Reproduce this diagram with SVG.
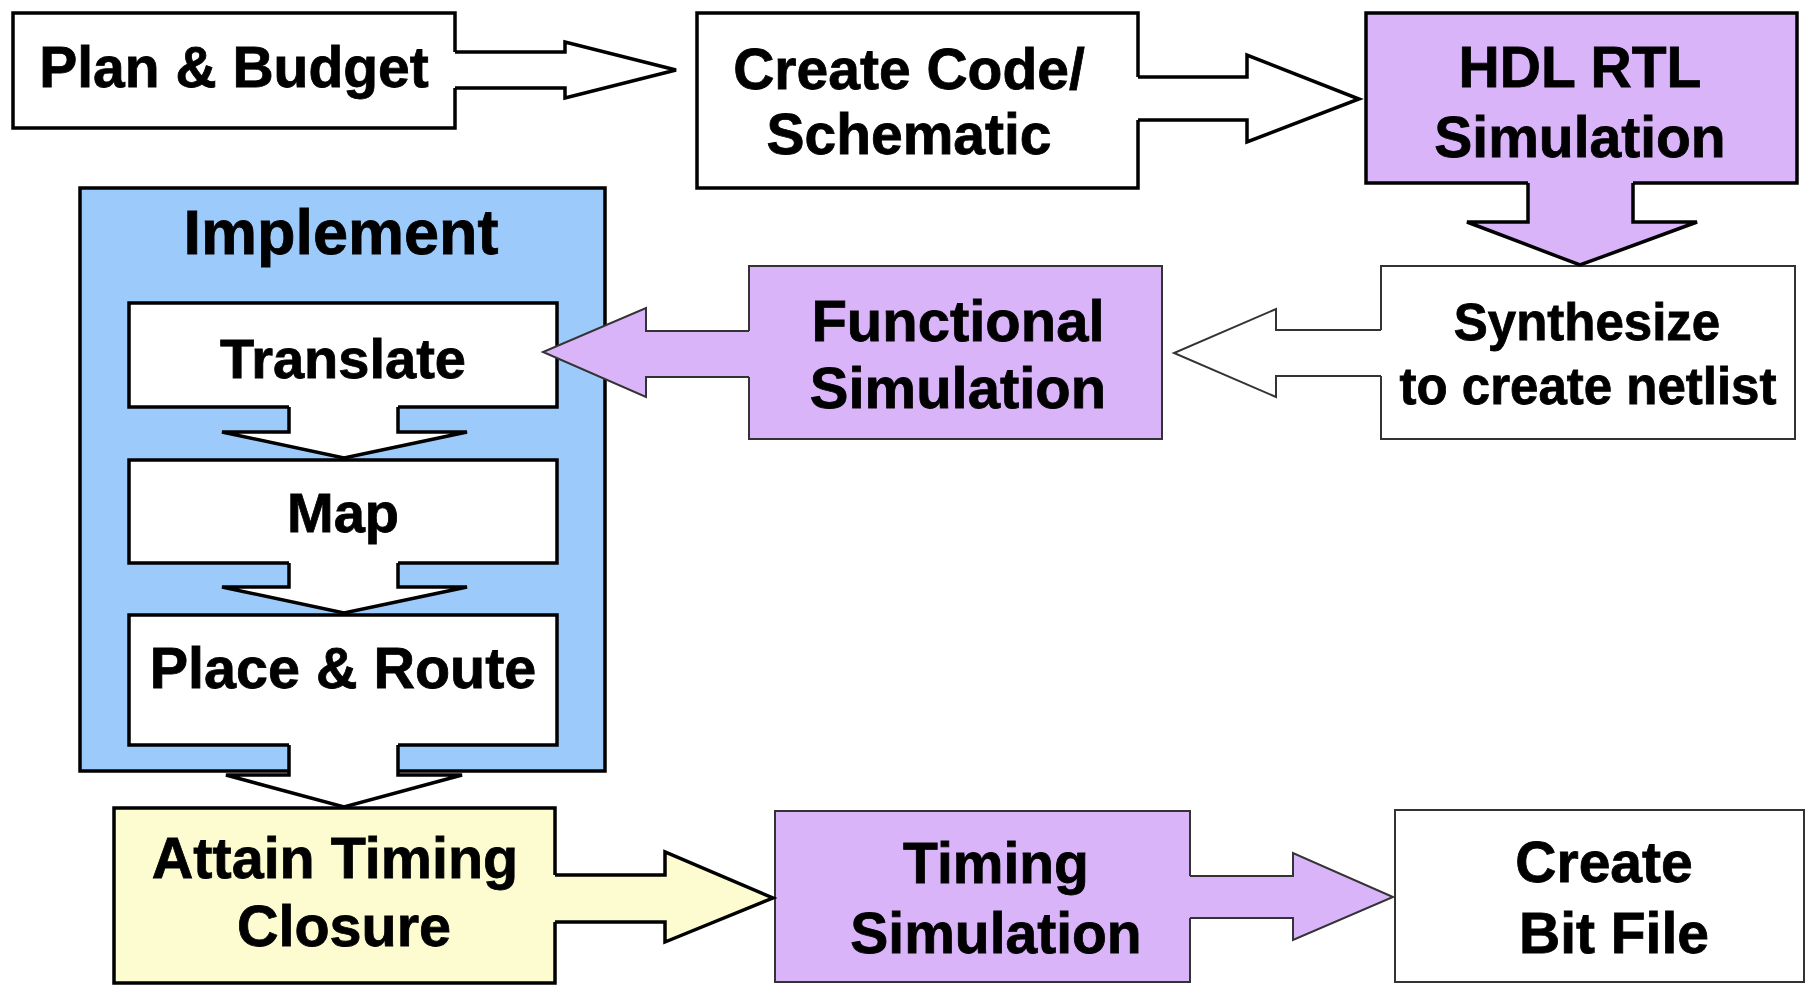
<svg xmlns="http://www.w3.org/2000/svg" width="1808" height="985" viewBox="0 0 1808 985">
<style>
text{font-family:"Liberation Sans",Arial,Helvetica,sans-serif;font-weight:bold;fill:#000;stroke:#000;stroke-width:0.8;text-anchor:middle}
.thick{stroke:#000;stroke-width:3.5;stroke-linejoin:miter}
.thin{stroke:#333;stroke-width:2;stroke-linejoin:miter}
.white{fill:#fff}
.purple{fill:#dab4f9}
.blue{fill:#9ccbfb}
.yellow{fill:#fdfbd0}
.nostroke{stroke:none}
.outline{fill:none}
</style>
<rect width="1808" height="985" fill="#fff"/>
<g id="plan-budget">
<rect class="white thick" x="13" y="13" width="442" height="115"/>
<text x="234" y="87" font-size="57">Plan &amp; Budget</text>
</g>
<g id="create-code">
<rect class="white thick" x="697" y="13" width="441" height="175"/>
<text x="909" y="89" font-size="57">Create Code/</text>
<text x="909" y="154" font-size="57">Schematic</text>
</g>
<g id="hdl-rtl">
<rect class="purple thick" x="1366" y="13" width="431" height="170"/>
<text x="1580" y="87" font-size="57">HDL RTL</text>
<text x="1580" y="157" font-size="57">Simulation</text>
</g>
<g id="synthesize">
<rect class="white thin" x="1381" y="266" width="414" height="173"/>
<text x="1587" y="340" font-size="51">Synthesize</text>
<text x="1588" y="404" font-size="51">to create netlist</text>
</g>
<g id="functional-sim">
<rect class="purple thin" x="749" y="266" width="413" height="173"/>
<text x="958" y="341" font-size="58">Functional</text>
<text x="958" y="408" font-size="58">Simulation</text>
</g>
<g id="implement">
<rect class="blue thick" x="80" y="188" width="525" height="583"/>
<text x="341" y="254" font-size="63">Implement</text>
</g>
<g id="translate">
<rect class="white thick" x="129" y="303" width="428" height="104"/>
<text x="343" y="378" font-size="56">Translate</text>
</g>
<g id="map">
<rect class="white thick" x="129" y="460" width="428" height="103"/>
<text x="343" y="532" font-size="56">Map</text>
</g>
<g id="place-route">
<rect class="white thick" x="129" y="615" width="428" height="130"/>
<text x="343" y="688" font-size="57.5">Place &amp; Route</text>
</g>
<g id="attain-timing">
<rect class="yellow thick" x="114" y="808" width="441" height="175"/>
<text x="335" y="878" font-size="57.5">Attain Timing</text>
<text x="344" y="946" font-size="57.5">Closure</text>
</g>
<g id="timing-sim">
<rect class="purple thin" x="775" y="811" width="415" height="171"/>
<text x="996" y="883" font-size="57">Timing</text>
<text x="996" y="953" font-size="57">Simulation</text>
</g>
<g id="create-bit">
<rect class="white thin" x="1395" y="810" width="409" height="172"/>
<text x="1604" y="882" font-size="57">Create</text>
<text x="1614" y="953" font-size="57">Bit File</text>
</g>
<g id="connectors">
<!-- Plan -> Create Code -->
<polygon class="white nostroke" points="450,52 565,52 565,42 676,70 565,98 565,88 450,88"/>
<path class="outline thick" d="M455,52 H565 V42 L676,70 L565,98 V88 H455"/>
<!-- Create Code -> HDL -->
<polygon class="white nostroke" points="1133,77 1247,77 1247,55 1359,99 1247,142 1247,120 1133,120"/>
<path class="outline thick" d="M1138,77 H1247 V55 L1359,99 L1247,142 V120 H1138"/>
<!-- HDL -> Synthesize -->
<polygon class="purple nostroke" points="1528,178 1528,222 1467,222 1580,265 1697,222 1633,222 1633,178"/>
<path class="outline thick" d="M1528,183 V222 H1467 L1580,265 L1697,222 H1633 V183"/>
<!-- Synthesize -> Functional -->
<polygon class="white nostroke" points="1385,330 1276,330 1276,309 1174,353 1276,397 1276,376 1385,376"/>
<path class="outline thin" d="M1381,330 H1276 V309 L1174,353 L1276,397 V376 H1381"/>
<!-- Functional -> Translate -->
<polygon class="purple nostroke" points="753,331 646,331 646,308 543,352 646,397 646,377 753,377"/>
<path class="outline thin" d="M749,331 H646 V308 L543,352 L646,397 V377 H749"/>
<!-- Translate -> Map -->
<polygon class="white nostroke" points="289,403 289,432 222,432 344,458 467,432 398,432 398,403"/>
<path class="outline thick" d="M289,407 V432 H222 L344,458 L467,432 H398 V407"/>
<!-- Map -> Place & Route -->
<polygon class="white nostroke" points="289,559 289,587 222,587 344,613 467,587 398,587 398,559"/>
<path class="outline thick" d="M289,563 V587 H222 L344,613 L467,587 H398 V563"/>
<!-- Place & Route -> Attain Timing -->
<polygon class="white nostroke" points="289,741 289,775 226,775 344,807 462,775 398,775 398,741"/>
<path class="outline thick" d="M289,745 V775 H226 L344,807 L462,775 H398 V745"/>
<!-- Attain Timing -> Timing Simulation -->
<polygon class="yellow nostroke" points="550,875 665,875 665,852 773,898 665,942 665,922 550,922"/>
<path class="outline thick" d="M555,875 H665 V852 L773,898 L665,942 V922 H555"/>
<!-- Timing Simulation -> Create Bit File -->
<polygon class="purple nostroke" points="1186,876 1293,876 1293,853 1393,897 1293,940 1293,918 1186,918"/>
<path class="outline thin" d="M1190,876 H1293 V853 L1393,897 L1293,940 V918 H1190"/>
</g>
</svg>
